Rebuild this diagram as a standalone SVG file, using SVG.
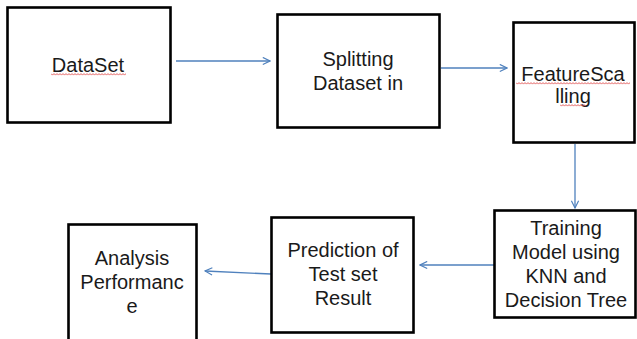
<svg xmlns="http://www.w3.org/2000/svg" width="637" height="339" viewBox="0 0 637 339">
<defs>
<marker id="arr" viewBox="0 0 10 10" refX="9" refY="5" markerWidth="9" markerHeight="9" markerUnits="userSpaceOnUse" orient="auto">
<path d="M1,1 L9,5 L1,9" fill="none" stroke="#4f81bd" stroke-width="1.3"/>
</marker>
<path id="wave" d="M0,0 l1.5,1.5 l1.5,-1.5 l1.5,1.5 l1.5,-1.5 l1.5,1.5 l1.5,-1.5 l1.5,1.5 l1.5,-1.5 l1.5,1.5 l1.5,-1.5 l1.5,1.5 l1.5,-1.5 l1.5,1.5 l1.5,-1.5 l1.5,1.5 l1.5,-1.5 l1.5,1.5 l1.5,-1.5 l1.5,1.5 l1.5,-1.5 l1.5,1.5 l1.5,-1.5 l1.5,1.5 l1.5,-1.5 l1.5,1.5 l1.5,-1.5 l1.5,1.5 l1.5,-1.5 l1.5,1.5 l1.5,-1.5 l1.5,1.5 l1.5,-1.5 l1.5,1.5 l1.5,-1.5 l1.5,1.5 l1.5,-1.5 l1.5,1.5 l1.5,-1.5 l1.5,1.5 l1.5,-1.5 l1.5,1.5 l1.5,-1.5 l1.5,1.5 l1.5,-1.5 l1.5,1.5 l1.5,-1.5 l1.5,1.5 l1.5,-1.5 l1.5,1.5 l1.5,-1.5 l1.5,1.5 l1.5,-1.5 l1.5,1.5 l1.5,-1.5 l1.5,1.5 l1.5,-1.5 l1.5,1.5 l1.5,-1.5 l1.5,1.5 l1.5,-1.5 l1.5,1.5 l1.5,-1.5 l1.5,1.5 l1.5,-1.5 l1.5,1.5 l1.5,-1.5 l1.5,1.5 l1.5,-1.5 l1.5,1.5 l1.5,-1.5 l1.5,1.5 l1.5,-1.5 l1.5,1.5 l1.5,-1.5 l1.5,1.5 l1.5,-1.5 l1.5,1.5 l1.5,-1.5 l1.5,1.5 l1.5,-1.5"/>
</defs>
<style>
.box{fill:#fff;stroke:#000;stroke-width:2.6}
.lbl{font-family:"Liberation Sans",Arial,sans-serif;font-size:20px;fill:#1a1a1a;text-anchor:middle}
.con{stroke:#4f81bd;stroke-width:1.3;fill:none;marker-end:url(#arr)}
.sq{fill:none;stroke:#e05050;stroke-width:0.9}
</style>
<rect width="637" height="339" fill="#fff"/>
<g id="connectors">
<line class="con" x1="176" y1="61" x2="270" y2="61"/>
<line class="con" x1="441" y1="68" x2="507" y2="68"/>
<line class="con" x1="575" y1="144" x2="575" y2="208"/>
<line class="con" x1="494" y1="265" x2="420" y2="265"/>
<line class="con" x1="271" y1="274" x2="205" y2="271"/>
</g>
<g id="n1">
<rect class="box" x="7.5" y="7.5" width="163" height="115"/>
<text class="lbl" x="88" y="72">DataSet</text>
<svg x="51" y="73" width="75" height="3" overflow="hidden"><use href="#wave" x="0" y="0.6" class="sq"/></svg>
</g>
<g id="n2">
<rect class="box" x="277.5" y="14.5" width="162" height="113"/>
<text class="lbl" x="358" y="66">Splitting</text>
<text class="lbl" x="358" y="90">Dataset in</text>
</g>
<g id="n3">
<rect class="box" x="513.5" y="22.5" width="121" height="120"/>
<text class="lbl" x="573" y="81">FeatureSca</text>
<text class="lbl" x="573" y="103">lling</text>
<svg x="516" y="82" width="114" height="3" overflow="hidden"><use href="#wave" x="0" y="0.6" class="sq"/></svg>
<svg x="560" y="104" width="26" height="3" overflow="hidden"><use href="#wave" x="0" y="0.6" class="sq"/></svg>
</g>
<g id="n4">
<rect class="box" x="494.5" y="210.5" width="141" height="107"/>
<text class="lbl" x="566" y="235">Training</text>
<text class="lbl" x="566" y="259">Model using</text>
<text class="lbl" x="566" y="283">KNN and</text>
<text class="lbl" x="566" y="307">Decision Tree</text>
</g>
<g id="n5">
<rect class="box" x="271.5" y="217.5" width="142" height="115"/>
<text class="lbl" x="343" y="257">Prediction of</text>
<text class="lbl" x="343" y="281">Test set</text>
<text class="lbl" x="343" y="305">Result</text>
</g>
<g id="n6">
<rect class="box" x="68.5" y="224.5" width="128" height="116"/>
<text class="lbl" x="132" y="265">Analysis</text>
<text class="lbl" x="132" y="289">Performanc</text>
<text class="lbl" x="132" y="313">e</text>
</g>
</svg>
